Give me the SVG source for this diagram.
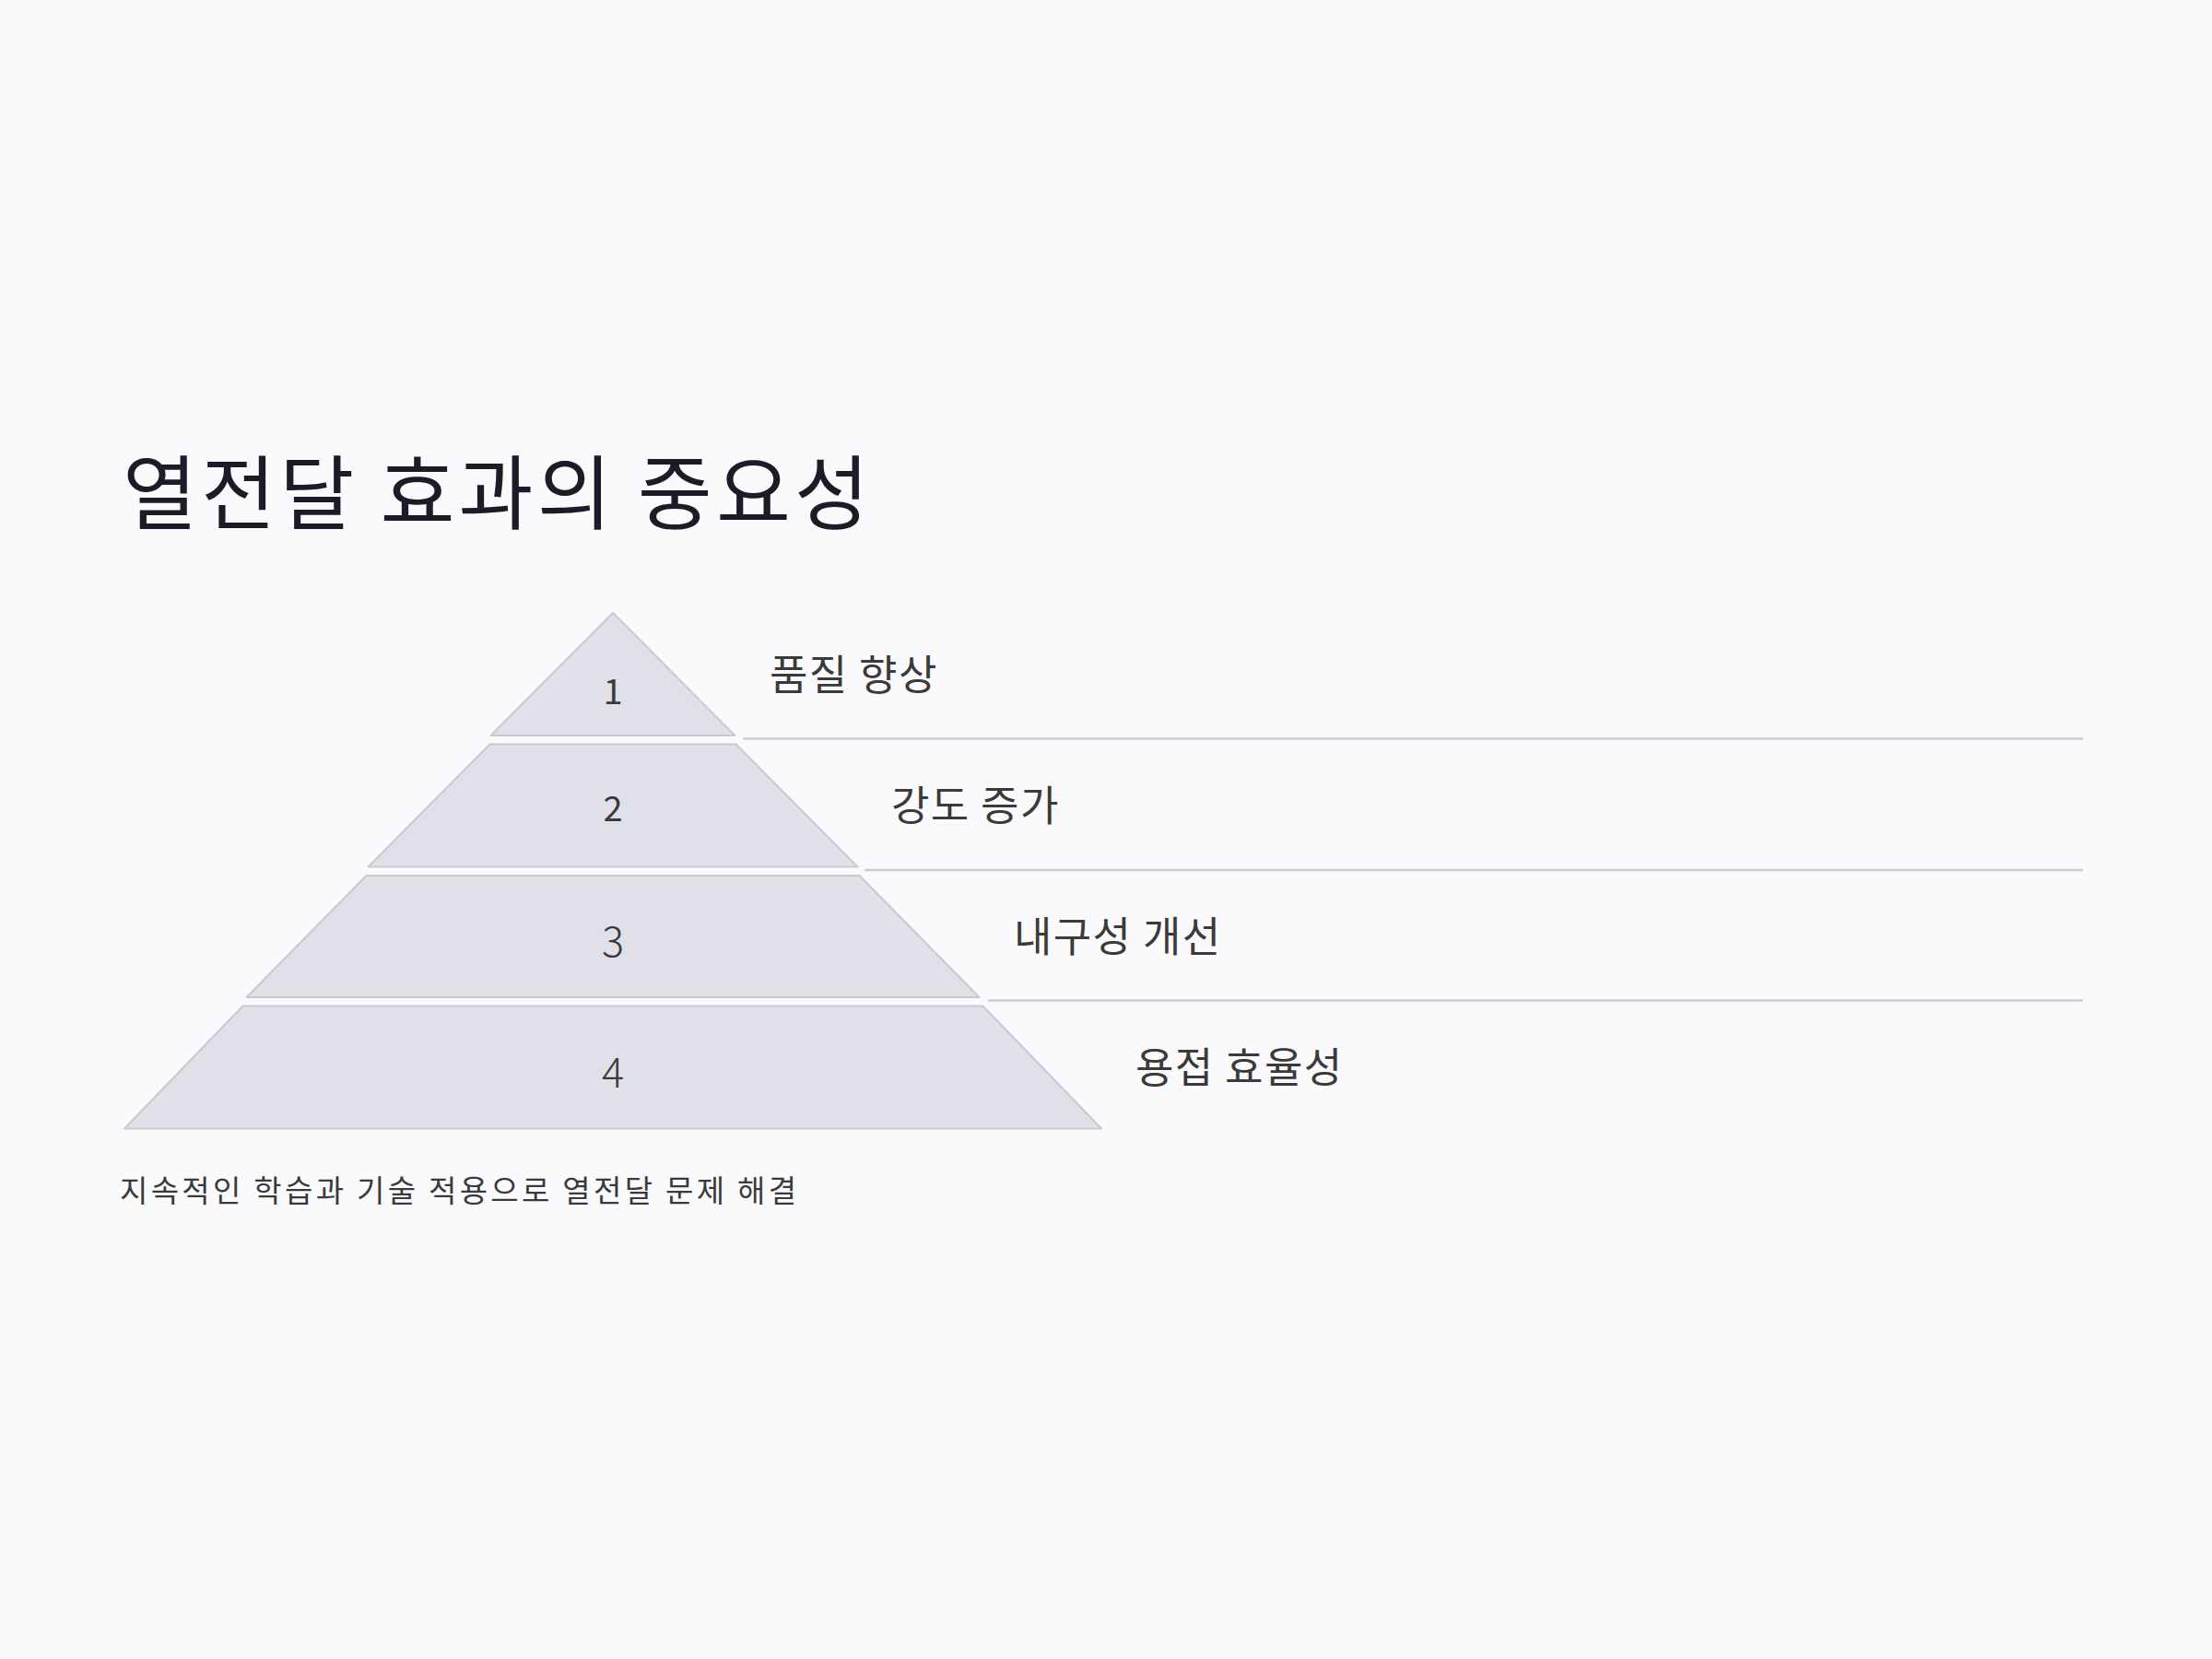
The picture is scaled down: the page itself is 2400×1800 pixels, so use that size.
<svg xmlns="http://www.w3.org/2000/svg" width="2400" height="1800" viewBox="0 0 2400 1800">
<style>
.bg{fill:#fafafc}
.tier{fill:#e0e1e8;stroke:#c8c9d2;stroke-width:2;stroke-linejoin:round}
.sep{stroke:#cbcbd3;stroke-width:2.5;fill:none}
.title{font-family:"Noto Sans CJK KR","Noto Sans",sans-serif;font-size:88px;letter-spacing:4.2px;fill:#1c1b28}
.num{font-family:"Noto Sans CJK KR","Noto Sans",sans-serif;fill:#3a3a3c;text-anchor:middle}
.lbl{font-family:"Noto Sans CJK KR","Noto Sans",sans-serif;font-size:45px;letter-spacing:1.4px;fill:#3a3a3a}
.foot{font-family:"Noto Sans CJK KR","Noto Sans",sans-serif;font-size:33px;letter-spacing:3.3px;fill:#3a3a3a}
</style>
<rect class="bg" x="0" y="0" width="2400" height="1800"/>
<text class="title" x="133" y="567">열전달 효과의 중요성</text>
<g id="connectors">
<line class="sep" x1="806" y1="801.5" x2="2260" y2="801.5"/>
<line class="sep" x1="938" y1="944" x2="2260" y2="944"/>
<line class="sep" x1="1072" y1="1085.5" x2="2260" y2="1085.5"/>
</g>
<g id="tier1">
<polygon class="tier" points="665,665 797.5,798 532.5,798"/>
<text class="num" x="665" y="764" font-size="38">1</text>
<text class="lbl" x="835" y="748.5">품질 향상</text>
</g>
<g id="tier2">
<polygon class="tier" points="531.5,807.5 798.5,807.5 930.5,940.5 399.5,940.5"/>
<text class="num" x="665" y="890.5" font-size="38">2</text>
<text class="lbl" x="967" y="891">강도 증가</text>
</g>
<g id="tier3">
<polygon class="tier" points="397.5,950 932.5,950 1062.5,1082 267.5,1082"/>
<text class="num" x="665" y="1038" font-size="45" font-weight="300">3</text>
<text class="lbl" x="1100" y="1033">내구성 개선</text>
</g>
<g id="tier4">
<polygon class="tier" points="263.5,1091.5 1066.5,1091.5 1195,1224.5 135,1224.5"/>
<text class="num" x="665" y="1180" font-size="45" font-weight="300">4</text>
<text class="lbl" x="1232" y="1175">용접 효율성</text>
</g>
<text class="foot" x="130" y="1304">지속적인 학습과 기술 적용으로 열전달 문제 해결</text>
</svg>
